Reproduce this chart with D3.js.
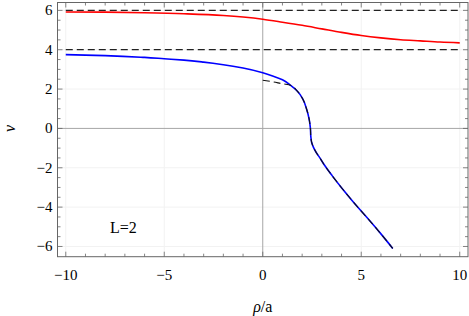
<!DOCTYPE html>
<html>
<head>
<meta charset="utf-8">
<script src="https://cdn.jsdelivr.net/npm/d3@7"></script>
<style>
    body { margin: 0; background: #fff; }
    svg { display: block; font-family: "Liberation Serif", "DejaVu Serif", serif; }
</style>
</head>
<body>
<svg id="chart" width="469" height="316"></svg>
<script>
// ---- Dados
const redX  = [-10, -8, -6, -4, -2, -1, 0, 1, 2, 3, 4, 5, 6, 7, 8, 9, 10];
const redNu = [5.92, 5.91, 5.88, 5.83, 5.74, 5.66, 5.55, 5.40, 5.24, 5.06, 4.88, 4.72, 4.60, 4.51, 4.45, 4.39, 4.35];

const blueX  = [-10, -8, -6, -5, -4, -3, -2, -1, 0, 0.5, 1, 1.4, 1.75, 2.03, 2.22, 2.35, 2.42, 2.44, 2.48, 2.57, 2.7, 2.9, 3.12, 3.52, 4.02, 4.5, 5, 5.5, 6, 6.6];
const blueNu = [3.75, 3.70, 3.61, 3.54, 3.47, 3.37, 3.24, 3.07, 2.83, 2.67, 2.47, 2.2, 1.9, 1.5, 1.0, 0.5, 0.0, -0.4, -0.7, -0.95, -1.2, -1.5, -1.85, -2.4, -3.04, -3.62, -4.2, -4.77, -5.36, -6.1];

const dashX  = [0, 0.5, 1];
const dashNu = [2.45, 2.37, 2.27];

const asymptotes = [6, 4];

const xTicks = [-10, -5, 0, 5, 10];
const yTicks = [-6, -4, -2, 0, 2, 4, 6];
const label = 'L=2';

// ---- Escalas
const margens = { left: 57.5, right: 1, top: 2.5, bottom: 59.3 };
const svg = d3.select('#chart');
const W = 469, H = 316;

const mapX = d3.scaleLinear().domain([-10.42, 10.42]).range([margens.left, W - margens.right]);
const mapY = d3.scaleLinear().domain([-6.52, 6.4]).range([H - margens.bottom, margens.top]);

const x0 = mapX.range()[0], x1 = mapX.range()[1];
const y0 = mapY.range()[1], y1 = mapY.range()[0];

// ---- Grade
const grid = svg.append('g');
grid.selectAll('.gx')
    .data(xTicks.filter(d => d !== 0))
    .join('line')
    .attr('x1', d => mapX(d)).attr('x2', d => mapX(d))
    .attr('y1', y0).attr('y2', y1)
    .attr('stroke', '#f2f2f2');
grid.selectAll('.gy')
    .data(yTicks.filter(d => d !== 0))
    .join('line')
    .attr('x1', x0).attr('x2', x1)
    .attr('y1', d => mapY(d)).attr('y2', d => mapY(d))
    .attr('stroke', '#f2f2f2');

// ---- Eixos zero
svg.append('line')
    .attr('x1', mapX(0)).attr('x2', mapX(0)).attr('y1', y0).attr('y2', y1)
    .attr('stroke', '#a6a6a6').attr('stroke-width', 1);
svg.append('line')
    .attr('x1', x0).attr('x2', x1).attr('y1', mapY(0)).attr('y2', mapY(0))
    .attr('stroke', '#a6a6a6').attr('stroke-width', 1);

// ---- Curvas
const lineX = d3.line()
    .x(d => mapX(d[0]))
    .y(d => mapY(d[1]))
    .curve(d3.curveMonotoneX);

const lineY = d3.line()
    .x(d => mapX(d[0]))
    .y(d => mapY(d[1]))
    .curve(d3.curveMonotoneY);

svg.selectAll('.asym')
    .data(asymptotes)
    .join('line')
    .attr('x1', mapX(-10)).attr('x2', mapX(10))
    .attr('y1', d => mapY(d)).attr('y2', d => mapY(d))
    .attr('stroke', '#222').attr('stroke-width', 1.2)
    .attr('stroke-dasharray', '7,4');

svg.append('path')
    .datum(d3.zip(redX, redNu))
    .attr('d', lineX)
    .attr('fill', 'none').attr('stroke', '#ff0000').attr('stroke-width', 1.6);

const bluePts = d3.zip(blueX, blueNu);
svg.append('path')
    .datum(bluePts)
    .attr('d', lineY)
    .attr('fill', 'none').attr('stroke', '#0000ff').attr('stroke-width', 1.6);

const dashPts = d3.zip(dashX, dashNu).concat(bluePts.filter(d => d[0] >= 1.4));
svg.append('path')
    .datum(dashPts)
    .attr('d', lineY)
    .attr('fill', 'none').attr('stroke', '#111').attr('stroke-width', 1.1)
    .attr('stroke-dasharray', '7,4');

// ---- Moldura e marcas
svg.append('rect')
    .attr('x', x0).attr('y', y0)
    .attr('width', x1 - x0).attr('height', y1 - y0)
    .attr('fill', 'none').attr('stroke', '#666').attr('stroke-width', 1);

const xMinor = d3.range(-10, 11, 1);
const yMinor = d3.range(-6, 6.01, 0.5);
const ticks = svg.append('g').attr('stroke', '#666').attr('stroke-width', 0.8);

xMinor.forEach(v => {
    const len = v % 5 === 0 ? 5 : 3;
    ticks.append('line').attr('x1', mapX(v)).attr('x2', mapX(v)).attr('y1', y1).attr('y2', y1 - len);
    ticks.append('line').attr('x1', mapX(v)).attr('x2', mapX(v)).attr('y1', y0).attr('y2', y0 + len);
});
yMinor.forEach(v => {
    const len = Math.abs(v % 2) < 1e-9 ? 5 : 3;
    ticks.append('line').attr('y1', mapY(v)).attr('y2', mapY(v)).attr('x1', x0).attr('x2', x0 + len);
    ticks.append('line').attr('y1', mapY(v)).attr('y2', mapY(v)).attr('x1', x1).attr('x2', x1 - len);
});

// ---- Rótulos
const fmt = v => v < 0 ? '\u2212' + Math.abs(v) : String(v);

svg.selectAll('.xl')
    .data(xTicks)
    .join('text')
    .attr('x', d => mapX(d))
    .attr('y', y1 + 23.5)
    .attr('text-anchor', 'middle')
    .attr('font-size', 15)
    .text(fmt);

svg.selectAll('.yl')
    .data(yTicks)
    .join('text')
    .attr('x', x0 - 5)
    .attr('y', d => mapY(d) + 5)
    .attr('text-anchor', 'end')
    .attr('font-size', 15)
    .text(fmt);

const xl = svg.append('text')
    .attr('x', mapX(0))
    .attr('y', 312)
    .attr('text-anchor', 'middle')
    .attr('font-size', 16);
xl.append('tspan').attr('font-style', 'italic').text('\u03C1');
xl.append('tspan').text('/a');

svg.append('text')
    .attr('transform', `translate(15, ${mapY(0)}) rotate(-90)`)
    .attr('text-anchor', 'middle')
    .attr('font-size', 16)
    .attr('font-style', 'italic')
    .text('\u03BD');

svg.append('text')
    .attr('x', 110)
    .attr('y', 233)
    .attr('font-size', 16)
    .text(label);
</script>
</body>
</html>
